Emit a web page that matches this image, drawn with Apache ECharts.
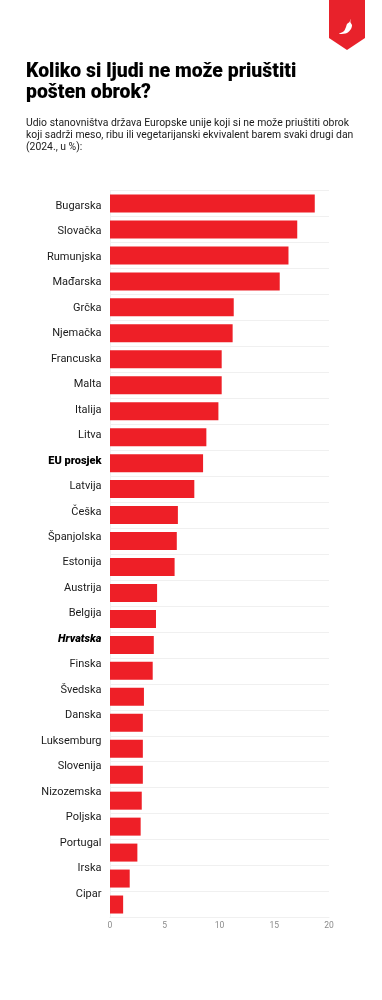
<!DOCTYPE html>
<html><head><meta charset="utf-8">
<style>html,body{margin:0;padding:0;background:#fff}#c{width:382px;height:1000px}</style>
<script src="https://cdn.jsdelivr.net/npm/echarts@6/dist/echarts.min.js"></script>
</head><body><div id="c"></div>
<script>
const categories = ["Bugarska","Slovačka","Rumunjska","Mađarska","Grčka","Njemačka","Francuska","Malta","Italija","Litva","EU prosjek","Latvija","Češka","Španjolska","Estonija","Austrija","Belgija","Hrvatska","Finska","Švedska","Danska","Luksemburg","Slovenija","Nizozemska","Poljska","Portugal","Irska","Cipar"];
const values = [18.7,17.1,16.3,15.5,11.3,11.2,10.2,10.2,9.9,8.8,8.5,7.7,6.2,6.1,5.9,4.3,4.2,4.0,3.9,3.1,3.0,3.0,3.0,2.9,2.8,2.5,1.8,1.2];
const xTicks = [0,5,10,15,20];
const titleText = "Koliko si ljudi ne može priuštiti\npošten obrok?";
const subtitleText = "Udio stanovništva država Europske unije koji si ne može priuštiti obrok\nkoji sadrži meso, ribu ili vegetarijanski ekvivalent barem svaki drugi dan\n(2024., u %):";
const FONT = "Roboto, sans-serif";
const chart = echarts.init(document.getElementById('c'));
chart.setOption({
  animation:false,
  backgroundColor:'#fff',
  title:[
    {text:titleText,left:26,top:62,padding:0,textStyle:{fontFamily:"Roboto",fontWeight:900,fontSize:19.4,lineHeight:20.5,color:'#000'}},
    {text:subtitleText,left:26,top:117,padding:0,textStyle:{fontFamily:"Roboto",fontWeight:400,fontSize:10.4,lineHeight:12,color:'#1a1a1a'}}
  ],
  grid:[
    {left:110,top:190.5,width:219,height:727},
    {left:110,top:193.3,width:219,height:713.4}
  ],
  xAxis:[
    {gridIndex:0,type:'value',min:0,max:20,interval:5,
     axisLine:{show:true,onZero:false,lineStyle:{color:'#f0f0f0'}},axisTick:{show:false},splitLine:{show:false},
     axisLabel:{fontFamily:FONT,fontSize:8.5,color:'#8a8a8a',margin:4,formatter:v=>xTicks.includes(v)?String(v):''}},
    {gridIndex:1,type:'value',min:0,max:20,show:false}
  ],
  yAxis:[
    {gridIndex:0,type:'category',inverse:true,data:categories,
     axisLine:{show:true,lineStyle:{color:'#f0f0f0'}},axisTick:{show:false},axisLabel:{show:false},
     splitLine:{show:true,lineStyle:{color:'#f0f0f0',width:1}}},
    {gridIndex:1,type:'category',inverse:true,data:categories,
     axisLine:{show:false},axisTick:{show:false},splitLine:{show:false},
     axisLabel:{margin:8.5,fontFamily:FONT,fontSize:11,color:'#1a1a1a',interval:0,
       formatter:v=>v==='EU prosjek'?'{b|'+v+'}':v==='Hrvatska'?'{bi|'+v+'}':v,
       rich:{b:{fontFamily:FONT,fontSize:11,fontWeight:900,color:'#000'},
             bi:{fontFamily:FONT,fontSize:11,fontWeight:900,fontStyle:'italic',color:'#000'}}}}
  ],
  series:[{type:'bar',xAxisIndex:0,yAxisIndex:0,data:values,barWidth:18,
    itemStyle:{color:'#ee1f27'},silent:true}],
  graphic:[
    {type:'polygon',silent:true,shape:{points:[[329,0],[365,0],[365,38],[347,50],[329,38]]},style:{fill:'#e8222b'}},
    {type:'polygon',silent:true,shape:{smooth:0.3,points:[[350.5,19],[350.5,22.5],[352,25],[351,29],[347,33],[339,34],[344,31],[346,27],[347,24],[349.5,22]]},style:{fill:'#fff'}}
  ]
});
</script></body></html>
